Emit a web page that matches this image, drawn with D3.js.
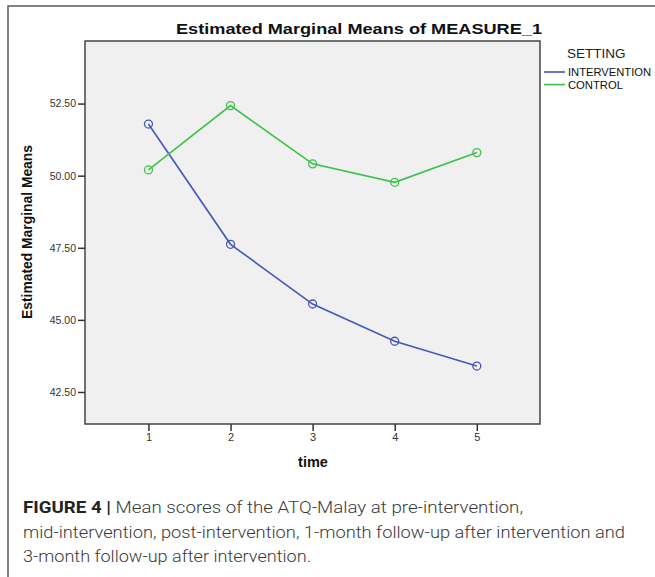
<!DOCTYPE html>
<html>
<head>
<meta charset="utf-8">
<script src="https://cdn.jsdelivr.net/npm/d3@7"></script>
<style>
  html, body { margin: 0; padding: 0; background: #fff; }
  svg { display: block; }
</style>
</head>
<body>
<svg id="chart" width="655" height="577"></svg>
<script>
const timePoints = [1, 2, 3, 4, 5];
const interventionMeans = [51.79, 47.62, 45.55, 44.26, 43.40];
const controlMeans = [50.20, 52.43, 50.41, 49.77, 50.80];
const seriesNames = ["INTERVENTION", "CONTROL"];
const yTickValues = [42.5, 45.0, 47.5, 50.0, 52.5];
const captionLines = [
  ["FIGURE 4 |", " Mean scores of the ATQ-Malay at pre-intervention,"],
  ["", "mid-intervention, post-intervention, 1-month follow-up after intervention and"],
  ["", "3-month follow-up after intervention."]
];

const colors = ["#4658b8", "#3fc04c"];
const svg = d3.select("#chart");

// outer frame
svg.append("rect").attr("x", 8).attr("y", 6).attr("width", 700).attr("height", 620)
  .attr("fill", "none").attr("stroke", "#5a5a5a").attr("stroke-width", 1.5);

const plot = { left: 85, top: 41, right: 540, bottom: 424 };

const x = d3.scaleLinear().domain([0.227, 5.77]).range([plot.left, plot.right]);
const y = d3.scaleLinear().domain([41.39, 54.67]).range([plot.bottom, plot.top]);

svg.append("rect")
  .attr("x", plot.left).attr("y", plot.top)
  .attr("width", plot.right - plot.left).attr("height", plot.bottom - plot.top)
  .attr("fill", "#f0f0f0").attr("stroke", "#444").attr("stroke-width", 1.5);

// axes
const yAxis = svg.append("g").attr("transform", `translate(${plot.left},0)`)
  .call(d3.axisLeft(y).tickValues(yTickValues).tickFormat(d3.format(".2f")).tickSize(7).tickPadding(2));
yAxis.select(".domain").remove();
yAxis.selectAll("line").attr("stroke", "#333").attr("stroke-width", 1.5);
yAxis.selectAll("text").attr("font-family", "Liberation Sans, Arial, sans-serif")
  .attr("font-size", 10.5).attr("fill", "#333");

const xAxis = svg.append("g").attr("transform", `translate(0,${plot.bottom})`)
  .call(d3.axisBottom(x).tickValues(timePoints).tickFormat(d3.format("d")).tickSize(7).tickPadding(2));
xAxis.select(".domain").remove();
xAxis.selectAll("line").attr("stroke", "#333").attr("stroke-width", 1.5);
xAxis.selectAll("text").attr("font-family", "Liberation Sans, Arial, sans-serif")
  .attr("font-size", 11).attr("fill", "#333");

// lines
const series = [interventionMeans, controlMeans];
const line = d3.line().x((d, i) => x(timePoints[i])).y(d => y(d));
series.forEach((vals, si) => {
  svg.append("path").datum(vals).attr("d", line)
    .attr("fill", "none").attr("stroke", colors[si]).attr("stroke-width", 1.6);
  svg.selectAll(null).data(vals).enter().append("circle")
    .attr("cx", (d, i) => x(timePoints[i])).attr("cy", d => y(d)).attr("r", 4)
    .attr("fill", "none").attr("stroke", colors[si]).attr("stroke-width", 1.3);
});

// title
svg.append("text").attr("x", 176).attr("y", 34)
  .attr("font-family", "Liberation Sans, Arial, sans-serif").attr("font-weight", "bold")
  .attr("font-size", 15.5).attr("fill", "#111")
  .attr("textLength", 366).attr("lengthAdjust", "spacingAndGlyphs")
  .text("Estimated Marginal Means of MEASURE_1");

// axis titles
svg.append("text").attr("transform", "translate(32,232) rotate(-90)")
  .attr("text-anchor", "middle")
  .attr("font-family", "Liberation Sans, Arial, sans-serif").attr("font-weight", "bold")
  .attr("font-size", 15).attr("fill", "#111")
  .attr("textLength", 174).attr("lengthAdjust", "spacingAndGlyphs")
  .text("Estimated Marginal Means");

svg.append("text").attr("x", 313).attr("y", 467).attr("text-anchor", "middle")
  .attr("font-family", "Liberation Sans, Arial, sans-serif").attr("font-weight", "bold")
  .attr("font-size", 14.5).attr("fill", "#111").text("time");

// legend
svg.append("text").attr("x", 567).attr("y", 58)
  .attr("font-family", "Liberation Sans, Arial, sans-serif")
  .attr("font-size", 13.5).attr("fill", "#222").text("SETTING");
seriesNames.forEach((name, i) => {
  const ly = 72 + i * 12.6;
  svg.append("line").attr("x1", 544).attr("x2", 565).attr("y1", ly).attr("y2", ly)
    .attr("stroke", colors[i]).attr("stroke-width", 1.6);
  svg.append("text").attr("x", 568).attr("y", ly + 4)
    .attr("font-family", "Liberation Sans, Arial, sans-serif")
    .attr("font-size", 10.5).attr("fill", "#111")
    .attr("textLength", i === 0 ? 83 : 55).attr("lengthAdjust", "spacingAndGlyphs")
    .text(name);
});

// caption
const capLens = [500, 602, 288];
captionLines.forEach((parts, i) => {
  const t = svg.append("text").attr("x", 23).attr("y", 513 + i * 24.5)
    .attr("font-family", "Roboto, Liberation Sans, Arial, sans-serif")
    .attr("font-weight", 300)
    .attr("font-size", 16.5).attr("fill", "#3a3a3a")
    .attr("textLength", capLens[i]).attr("lengthAdjust", "spacingAndGlyphs");
  if (parts[0]) t.append("tspan").attr("font-weight", "bold").attr("fill", "#222").text(parts[0]);
  t.append("tspan").text(parts[1]);
});
</script>
</body>
</html>
